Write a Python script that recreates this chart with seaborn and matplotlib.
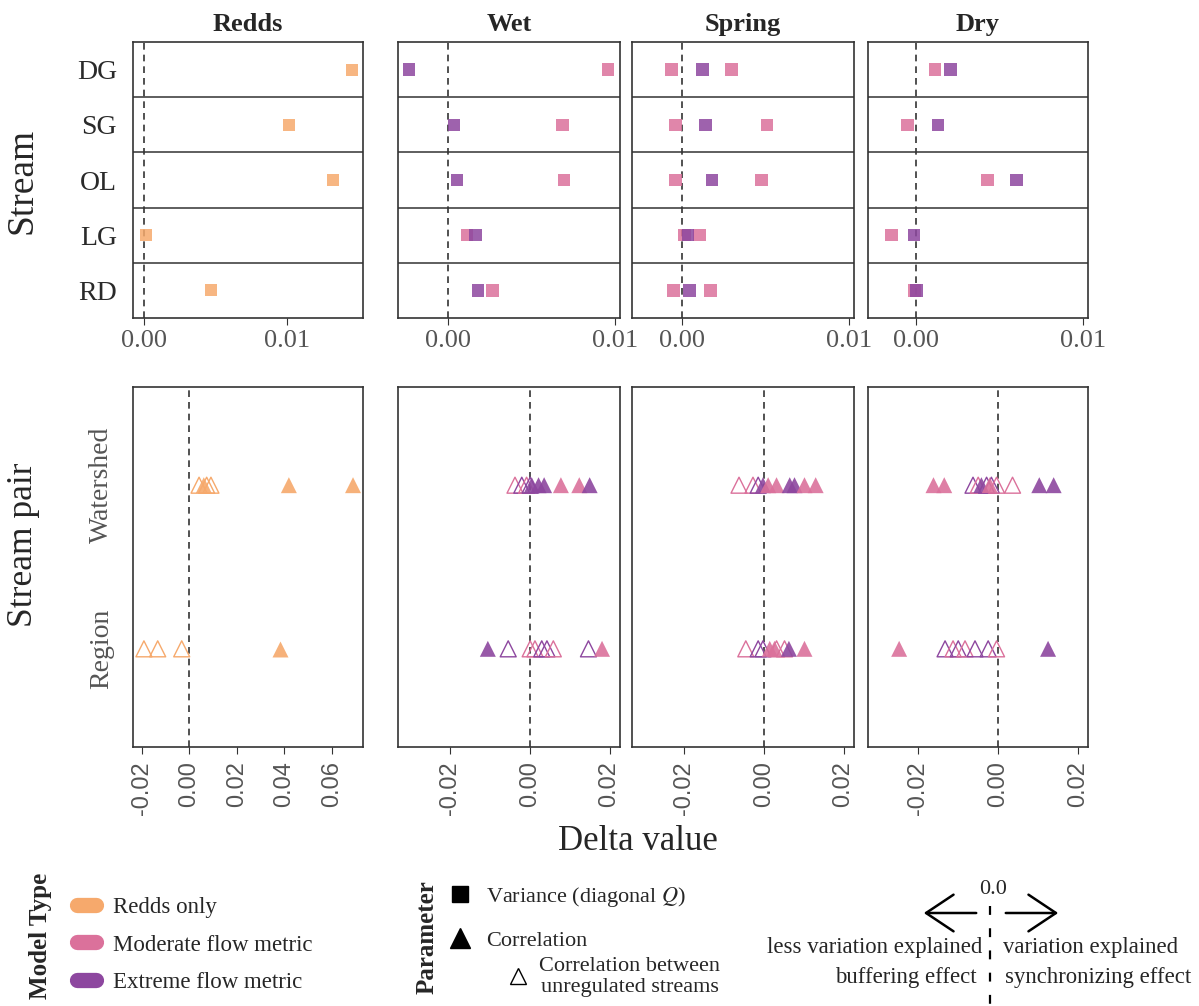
import seaborn as sns
import pandas as pd
import numpy as np
import matplotlib.pyplot as plt
from matplotlib.lines import Line2D
from matplotlib.patches import FancyArrowPatch

# ---- data ----
streams = ["DG", "SG", "OL", "LG", "RD"]
pairs = ["Watershed", "Region"]
models = ["Redds only", "Moderate flow metric", "Extreme flow metric"]
colors = ["#F6A96C", "#DB719B", "#8D479F"]

# top row: variance (diagonal Q), one value per stream
redds_var = [0.01455, 0.01014, 0.0132, 0.00014, 0.00469]
wet_var_mod = [0.00958, 0.00687, 0.00695, 0.00112, 0.00265]
wet_var_ext = [-0.00235, 0.00036, 0.00052, 0.00164, 0.0018]
spring_var_mod_a = [-0.00062, -0.0004, -0.0004, 0.00016, -0.00052]
spring_var_mod_b = [0.00295, 0.0051, 0.00477, 0.00104, 0.0017]
spring_var_ext = [0.00122, 0.0014, 0.0018, 0.00034, 0.00044]
dry_var_mod = [0.00114, -0.0005, 0.00429, -0.00146, -0.0001]
dry_var_ext = [0.00208, 0.00132, 0.00603, -0.00012, 0.00004]

# bottom row: correlation (filled) and correlation between unregulated streams (open)
redds_pair = ["Watershed"] * 6 + ["Region"] * 4
redds_model = ["Redds only"] * 10
redds_kind = ["open", "open", "open", "filled", "filled", "filled",
              "open", "open", "open", "filled"]
redds_corr = [0.0041, 0.0073, 0.0091, 0.0061, 0.0419, 0.0689,
              -0.0191, -0.0133, -0.0032, 0.0382]

M, E = "Moderate flow metric", "Extreme flow metric"
wet_pair = ["Watershed"] * 10 + ["Region"] * 9
wet_model = [M, E, M, E, E, E, E, M, M, E,
             E, E, M, M, E, E, M, E, M]
wet_kind = ["open", "open", "open", "open", "filled", "filled", "filled", "filled", "filled", "filled",
            "filled", "open", "open", "open", "open", "open", "open", "open", "filled"]
wet_corr = [-0.0037, -0.0020, -0.0008, 0.0001, 0.0005, 0.0022, 0.0036, 0.0078, 0.0124, 0.0150,
            -0.0105, -0.0054, 0.0001, 0.0013, 0.0030, 0.0043, 0.0059, 0.0147, 0.0181]

spring_pair = ["Watershed"] * 10 + ["Region"] * 9
spring_model = [M, M, E, E, M, M, E, E, M, M,
                M, E, E, M, M, M, M, E, M]
spring_kind = ["open", "open", "open", "filled", "filled", "filled", "filled", "filled", "filled", "filled",
               "open", "open", "open", "filled", "filled", "open", "open", "filled", "filled"]
spring_corr = [-0.0062, -0.0027, -0.0014, -0.0002, 0.0011, 0.0032, 0.0065, 0.0077, 0.0102, 0.0130,
               -0.0045, -0.0014, -0.0002, 0.0015, 0.0027, 0.0032, 0.0052, 0.0063, 0.0102]

dry_pair = ["Watershed"] * 12 + ["Region"] * 9
dry_model = [M, M, E, M, E, E, M, E, M, M, E, E,
             M, E, M, E, M, E, E, M, E]
dry_kind = ["filled", "filled", "open", "open", "filled", "open", "filled", "open", "open", "open", "filled", "filled",
            "filled", "open", "open", "open", "open", "open", "open", "open", "filled"]
dry_corr = [-0.0162, -0.0135, -0.0063, -0.0050, -0.0042, -0.0029, -0.0021, -0.0017, -0.0004, 0.0036, 0.0103, 0.0139,
            -0.0248, -0.0133, -0.0113, -0.0100, -0.0083, -0.0058, -0.0025, -0.0004, 0.0125]

pal = dict(zip(models, colors))

sns.set_style("white")
plt.rcParams["font.family"] = ["Liberation Serif", "DejaVu Serif"]
plt.rcParams["mathtext.fontset"] = "stix"

W, H = 1199, 1006
fig = plt.figure(figsize=(W / 100, H / 100), dpi=100)


def box(x1, y1, x2, y2):
    return [x1 / W, 1 - y2 / H, (x2 - x1) / W, (y2 - y1) / H]


cols_x = [(133, 363), (398, 620), (632, 854), (868, 1088)]
titles = ["Redds", "Wet", "Spring", "Dry"]


def style_axes(ax):
    for s in ax.spines.values():
        s.set_visible(True)
        s.set_color("#333333")
        s.set_linewidth(1.2)
    ax.set_xlabel("")
    ax.set_ylabel("")
    ax.axvline(0, color="#333333", lw=1.2, ls=(0, (4, 3)), zorder=0)


# ---- top row ----
top_frames = [
    pd.DataFrame({"stream": streams, "model": "Redds only", "value": redds_var}),
    pd.concat([
        pd.DataFrame({"stream": streams, "model": M, "value": wet_var_mod}),
        pd.DataFrame({"stream": streams, "model": E, "value": wet_var_ext}),
    ]),
    pd.concat([
        pd.DataFrame({"stream": streams, "model": M, "value": spring_var_mod_a}),
        pd.DataFrame({"stream": streams, "model": M, "value": spring_var_mod_b}),
        pd.DataFrame({"stream": streams, "model": E, "value": spring_var_ext}),
    ]),
    pd.concat([
        pd.DataFrame({"stream": streams, "model": M, "value": dry_var_mod}),
        pd.DataFrame({"stream": streams, "model": E, "value": dry_var_ext}),
    ]),
]
top_xlim = [(-0.00077, 0.0153), (-0.003, 0.0103), (-0.003, 0.0103), (-0.00287, 0.0103)]

for i, (df, (x1, x2)) in enumerate(zip(top_frames, cols_x)):
    ax = fig.add_axes(box(x1, 42, x2, 318))
    sns.stripplot(data=df, x="value", y="stream", hue="model", order=streams,
                  hue_order=models, palette=pal, jitter=False, marker="s",
                  size=9, alpha=0.85, linewidth=0, legend=False, ax=ax)
    style_axes(ax)
    for k in range(1, len(streams)):
        ax.axhline(k - 0.5, color="#333333", lw=1.1)
    ax.set_ylim(len(streams) - 0.5, -0.5)
    ax.set_xlim(*top_xlim[i])
    ax.set_xticks([0, 0.01])
    ax.set_xticklabels(["0.00", "0.01"])
    ax.tick_params(axis="x", bottom=True, length=5, color="#333333",
                   labelcolor="#555555", labelsize=19, pad=4)
    ax.tick_params(axis="y", left=False, labelsize=20, labelcolor="#2a2a2a", pad=8)
    if i > 0:
        ax.tick_params(axis="y", labelleft=False)
    ax.set_title(titles[i], fontsize=19, fontweight="bold", pad=8)

# ---- bottom row ----
bottom_frames = [
    pd.DataFrame({"pair": redds_pair, "model": redds_model, "kind": redds_kind, "value": redds_corr}),
    pd.DataFrame({"pair": wet_pair, "model": wet_model, "kind": wet_kind, "value": wet_corr}),
    pd.DataFrame({"pair": spring_pair, "model": spring_model, "kind": spring_kind, "value": spring_corr}),
    pd.DataFrame({"pair": dry_pair, "model": dry_model, "kind": dry_kind, "value": dry_corr}),
]
bot_xlim = [(-0.0237, 0.0731), (-0.033, 0.0226), (-0.033, 0.0226), (-0.0326, 0.0225)]
bot_ticks = [[-0.02, 0.0, 0.02, 0.04, 0.06], [-0.02, 0.0, 0.02], [-0.02, 0.0, 0.02], [-0.02, 0.0, 0.02]]

for i, (df, (x1, x2)) in enumerate(zip(bottom_frames, cols_x)):
    ax = fig.add_axes(box(x1, 387, x2, 747))
    # open triangles first
    n0 = len(ax.collections)
    sns.stripplot(data=df[df["kind"] == "open"], x="value", y="pair", hue="model",
                  order=pairs, hue_order=models, palette=pal, jitter=False,
                  marker="^", size=11.5, linewidth=1, legend=False, ax=ax)
    for c in ax.collections[n0:]:
        fc = c.get_facecolors()
        c.set_edgecolors(fc)
        c.set_facecolors("none")
        c.set_linewidth(1.0)
    sns.stripplot(data=df[df["kind"] == "filled"], x="value", y="pair", hue="model",
                  order=pairs, hue_order=models, palette=pal, jitter=False,
                  marker="^", size=11.5, alpha=0.9, linewidth=0, legend=False, ax=ax)
    style_axes(ax)
    ax.set_ylim(1.6, -0.6)
    ax.set_xlim(*bot_xlim[i])
    ax.set_xticks(bot_ticks[i])
    ax.set_xticklabels([f"{t:.2f}" for t in bot_ticks[i]], rotation=90,
                       family="Liberation Sans")
    ax.tick_params(axis="x", bottom=True, length=5, color="#333333",
                   labelcolor="#555555", labelsize=17, pad=5)
    ax.tick_params(axis="y", left=False, pad=10)
    if i == 0:
        ax.set_yticklabels(pairs, rotation=90, va="center", fontsize=20, color="#555555")
    else:
        ax.tick_params(axis="y", labelleft=False)

# ---- axis titles ----
fig.text(22 / W, 1 - 181 / H, "Stream", rotation=90, fontsize=27, ha="center", va="center")
fig.text(24 / W, 1 - 545 / H, "Stream pair", rotation=90, fontsize=25.5, ha="center", va="center")
fig.text(638 / W, 1 - 842 / H, "Delta value", fontsize=25, ha="center", va="center")

# ---- legends ----
fig.text(40 / W, 1 - 936 / H, "Model Type", rotation=90, fontsize=18, fontweight="bold",
         ha="center", va="center")
mt_handles = [Line2D([], [], color=c, lw=11, solid_capstyle="round") for c in colors]
fig.legend(mt_handles, models, loc="center left", bbox_to_anchor=(77 / W, 1 - 945 / H),
           frameon=False, fontsize=16.5, handlelength=0.83, labelspacing=0.72,
           handletextpad=0.74, borderpad=0, borderaxespad=0)

fig.text(427 / W, 1 - 937 / H, "Parameter", rotation=90, fontsize=18, fontweight="bold",
         ha="center", va="center")
p_handles = [Line2D([], [], ls="", marker="s", color="black", markersize=11),
             Line2D([], [], ls="", marker="^", color="black", markersize=14)]
fig.legend(p_handles, ["Variance (diagonal $Q$)", "Correlation"], loc="center left",
           bbox_to_anchor=(449 / W, 1 - 918 / H), frameon=False, fontsize=16,
           handlelength=1.0, labelspacing=0.95, handletextpad=0.65, borderpad=0, borderaxespad=0)
open_handle = [Line2D([], [], ls="", marker="^", markerfacecolor="none",
                      markeredgecolor="black", markersize=12, markeredgewidth=1)]
leg3 = fig.legend(open_handle, ["Correlation between\nunregulated streams"], loc="center left",
                  bbox_to_anchor=(507 / W, 1 - 977 / H), frameon=False, fontsize=16,
                  handlelength=1.0, handletextpad=0.45, borderpad=0, borderaxespad=0)
for t in leg3.get_texts():
    t.set_multialignment("center")
    t.set_linespacing(1.15)

# ---- direction key ----
fig.text(993 / W, 1 - 889 / H, "0.0", fontsize=16, ha="center", va="center")
arrow_style = "->,head_length=0.9,head_width=0.6"
fig.add_artist(FancyArrowPatch((979 / W, 1 - 913 / H), (921 / W, 1 - 913 / H),
                               transform=fig.transFigure, arrowstyle=arrow_style,
                               mutation_scale=22, lw=1.8, color="black"))
fig.add_artist(FancyArrowPatch((1003 / W, 1 - 913 / H), (1061 / W, 1 - 913 / H),
                               transform=fig.transFigure, arrowstyle=arrow_style,
                               mutation_scale=22, lw=1.8, color="black"))
fig.add_artist(Line2D([990 / W, 990 / W], [1 - 906 / H, 1 - 1004 / H], transform=fig.transFigure,
                      color="black", lw=1.6, ls=(0, (4, 6))))
fig.text(982 / W, 1 - 947 / H, "less variation explained", fontsize=16.4, ha="right", va="center")
fig.text(977 / W, 1 - 977 / H, "buffering effect", fontsize=16.4, ha="right", va="center")
fig.text(1003 / W, 1 - 947 / H, "variation explained", fontsize=16.4, ha="left", va="center")
fig.text(1005 / W, 1 - 977 / H, "synchronizing effect", fontsize=16.4, ha="left", va="center")

fig.savefig("out.png", dpi=100)
